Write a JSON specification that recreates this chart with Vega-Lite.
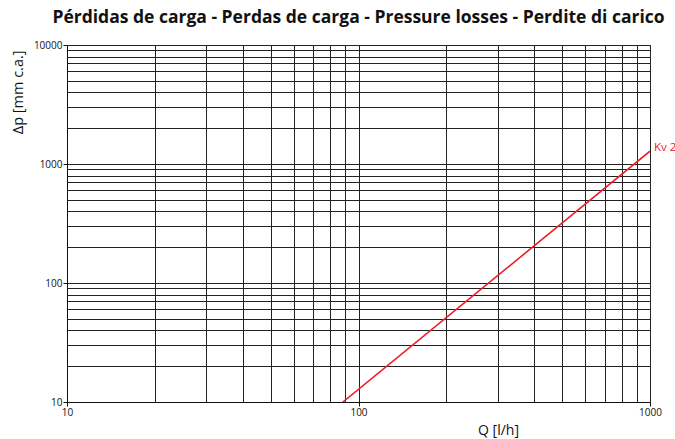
{
  "$schema": "https://vega.github.io/schema/vega-lite/v6.json",
  "autosize": {"type": "none"},
  "padding": {"left": 67, "top": 45, "right": 25, "bottom": 37},
  "width": 583,
  "height": 357,
  "background": "white",
  "config": {
    "font": "Open Sans",
    "view": {"stroke": "#111", "strokeWidth": 1}
  },
  "title": {
    "text": "Pérdidas de carga - Perdas de carga - Pressure losses - Perdite di carico",
    "font": "Open Sans",
    "fontSize": 17.5,
    "fontWeight": "bold",
    "color": "#111",
    "anchor": "middle",
    "offset": 14
  },
  "datasets": {
    "curve": [
      {"Q": 88.4, "dp": 10, "label": ""},
      {"Q": 1000, "dp": 1280, "label": "Kv 2"}
    ]
  },
  "data": {"name": "curve"},
  "encoding": {
    "x": {
      "field": "Q",
      "type": "quantitative",
      "scale": {"type": "log", "domain": [10, 1000], "nice": false, "zero": false},
      "axis": {
        "values": [10, 20, 30, 40, 50, 60, 70, 80, 90, 100, 200, 300, 400, 500, 600, 700, 800, 900, 1000],
        "labelExpr": "indexof([10,100,1000], datum.value) >= 0 ? datum.value : ''",
        "tickOpacity": {"expr": "indexof([10,100,1000], datum.value) >= 0 ? 1 : 0"},
        "grid": true,
        "gridColor": "#222",
        "gridOpacity": 1,
        "gridWidth": 1,
        "domainColor": "#111",
        "tickColor": "#111",
        "tickSize": 4,
        "labelFontSize": 10,
        "labelColor": "#111",
        "labelPadding": 1,
        "labelFlush": false,
        "title": "Q [l/h]",
        "titleFontSize": 14,
        "titleFontWeight": "normal",
        "titleColor": "#111",
        "titleAnchor": null,
        "titleX": 431,
        "titleY": 32,
        "titleAlign": "center",
        "titleBaseline": "alphabetic"
      }
    },
    "y": {
      "field": "dp",
      "type": "quantitative",
      "scale": {"type": "log", "domain": [10, 10000], "nice": false, "zero": false},
      "axis": {
        "values": [10, 20, 30, 40, 50, 60, 70, 80, 90, 100, 200, 300, 400, 500, 600, 700, 800, 900, 1000, 2000, 3000, 4000, 5000, 6000, 7000, 8000, 9000, 10000],
        "labelExpr": "indexof([10,100,1000,10000], datum.value) >= 0 ? datum.value : ''",
        "tickOpacity": {"expr": "indexof([10,100,1000,10000], datum.value) >= 0 ? 1 : 0"},
        "grid": true,
        "gridColor": "#222",
        "gridOpacity": 1,
        "gridWidth": 1,
        "domainColor": "#111",
        "tickColor": "#111",
        "tickSize": 4,
        "labelFontSize": 10,
        "labelColor": "#111",
        "labelPadding": 1,
        "labelFlush": false,
        "title": "Δp [mm c.a.]",
        "titleFontSize": 14.5,
        "titleFontWeight": "normal",
        "titleColor": "#111",
        "titleAnchor": null,
        "titleAngle": -90,
        "titleX": -42,
        "titleY": 5,
        "titleAlign": "right",
        "titleBaseline": "bottom"
      }
    }
  },
  "layer": [
    {
      "mark": {"type": "line", "color": "#ee1c25", "strokeWidth": 1.6, "clip": true}
    },
    {
      "mark": {"type": "text", "color": "#ee1c25", "fontSize": 11.5, "align": "left", "baseline": "middle", "dx": 4, "dy": -3, "font": "Open Sans"},
      "encoding": {"text": {"field": "label"}}
    }
  ]
}
